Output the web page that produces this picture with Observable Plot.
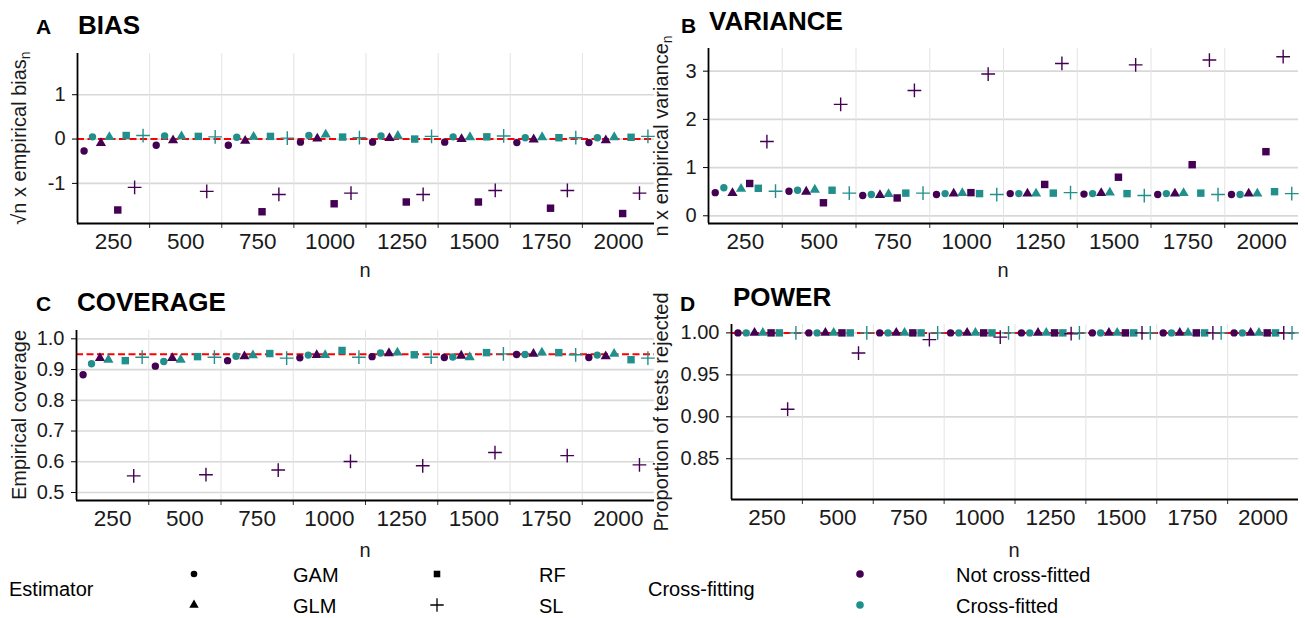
<!DOCTYPE html>
<html><head><meta charset="utf-8">
<script src="https://cdn.jsdelivr.net/npm/d3@7"></script>
<script src="https://cdn.jsdelivr.net/npm/@observablehq/plot@0.6"></script>
<style>
body{margin:0;background:#fff;font-family:"Liberation Sans",Arial,sans-serif;}
#root{position:relative;width:1305px;height:618px;overflow:hidden;background:#fff;}
#root svg{position:absolute;overflow:visible;}
</style></head><body><div id="root"></div>
<script>
// ---------- data ----------
const nValues = [250, 500, 750, 1000, 1250, 1500, 1750, 2000];
const estimators = ["GAM", "GLM", "RF", "SL"];
const crossFitting = ["Not cross-fitted", "Cross-fitted"];
const cfColors = ["#440154", "#21908C"];

// BIAS (sqrt(n) x empirical bias)
const biasGamNot = [-0.27, -0.14, -0.14, -0.07, -0.07, -0.07, -0.08, -0.08];
const biasGamCf  = [0.05, 0.07, 0.04, 0.08, 0.07, 0.05, 0.03, 0.03];
const biasGlmNot = [-0.09, -0.03, -0.04, 0.01, 0.02, 0.00, -0.01, -0.03];
const biasGlmCf  = [0.045, 0.06, 0.05, 0.10, 0.07, 0.04, 0.04, 0.04];
const biasRfNot  = [-1.60, null, -1.64, -1.46, -1.42, -1.42, -1.56, -1.68];
const biasRfCf   = [0.08, 0.06, 0.06, 0.045, 0.00, 0.05, 0.03, 0.04];
const biasSlNot  = [-1.09, -1.18, -1.25, -1.22, -1.25, -1.16, -1.16, -1.22];
const biasSlCf   = [0.08, 0.05, 0.02, 0.03, 0.06, 0.07, 0.03, 0.06];

// VARIANCE (n x empirical variance)
const varGamNot = [0.48, 0.51, 0.42, 0.44, 0.46, 0.45, 0.44, 0.44];
const varGamCf  = [0.58, 0.53, 0.44, 0.46, 0.46, 0.46, 0.46, 0.44];
const varGlmNot = [0.47, 0.50, 0.43, 0.46, 0.46, 0.47, 0.46, 0.46];
const varGlmCf  = [0.56, 0.54, 0.45, 0.47, 0.46, 0.48, 0.47, 0.46];
const varRfNot  = [0.67, 0.27, 0.37, 0.48, 0.65, 0.80, 1.06, 1.33];
const varRfCf   = [0.57, 0.53, 0.47, 0.46, 0.47, 0.46, 0.47, 0.50];
const varSlNot  = [1.54, 2.31, 2.60, 2.94, 3.16, 3.13, 3.23, 3.30];
const varSlCf   = [0.51, 0.47, 0.47, 0.44, 0.48, 0.42, 0.44, 0.46];

// COVERAGE
const covGamNot = [0.883, 0.911, 0.929, 0.938, 0.942, 0.939, 0.949, 0.939];
const covGamCf  = [0.919, 0.926, 0.943, 0.947, 0.954, 0.941, 0.949, 0.947];
const covGlmNot = [0.937, 0.937, 0.943, 0.947, 0.953, 0.945, 0.951, 0.943];
const covGlmCf  = [0.932, 0.932, 0.946, 0.947, 0.955, 0.940, 0.955, 0.951];
const covRfNot  = [null, null, null, null, null, null, null, null];
const covRfCf   = [0.929, 0.942, 0.952, 0.962, 0.948, 0.955, 0.955, 0.932];
const covSlNot  = [0.554, 0.558, 0.573, 0.601, 0.587, 0.630, 0.620, 0.590];
const covSlCf   = [0.940, 0.940, 0.937, 0.940, 0.940, 0.951, 0.948, 0.937];

// POWER (proportion of tests rejected)
const powGamNot = [1, 1, 1, 1, 1, 1, 1, 1];
const powGamCf  = [1, 1, 1, 1, 1, 1, 1, 1];
const powGlmNot = [1, 1, 1, 1, 1, 1, 1, 1];
const powGlmCf  = [1, 1, 1, 1, 1, 1, 1, 1];
const powRfNot  = [1, 1, 1, 1, 1, 1, 1, 1];
const powRfCf   = [1, 1, 1, 1, 1, 1, 1, 1];
const powSlNot  = [0.909, 0.976, 0.992, 0.995, 0.999, 1, 1, 1];
const powSlCf   = [1, 1, 1, 1, 1, 1, 1, 1];

const biasTicks = [-1, 0, 1];
const varTicks = [0, 1, 2, 3];
const covTicks = [0.5, 0.6, 0.7, 0.8, 0.9, 1.0];
const powTicks = [0.85, 0.90, 0.95, 1.00];

// ---------- helpers ----------
const FONT = "Liberation Sans, Arial, sans-serif";
const dodgeStep = 29.2; // in n units (8 dodged slots per group)
const seps = nValues.slice(0, -1).map(n => n + 125);
const xDomain = [125, 2125];

function buildRows(series) {
  const rows = [];
  series.forEach(([est, ci, vals]) => {
    const slot = estimators.indexOf(est) * 2 + ci;
    vals.forEach((v, k) => {
      if (v != null) rows.push({n: nValues[k], x: nValues[k] + (slot - 3.5) * dodgeStep, value: v, est, cf: crossFitting[ci]});
    });
  });
  return rows;
}

const symStyle = {
  GAM: {symbol: "circle", r: 3.7, filled: true},
  GLM: {symbol: "triangle", r: 3.8, filled: true},
  RF:  {symbol: "square", r: 4.2, filled: true},
  SL:  {symbol: "plus", r: 4.5, filled: false}
};

function makePanel(cfg) {
  const rows = buildRows(cfg.series);
  const dots = estimators.map(e => {
    const s = symStyle[e];
    const data = rows.filter(d => d.est === e);
    return s.filled
      ? Plot.dot(data, {x: "x", y: "value", symbol: () => s.symbol, r: s.r, fill: "cf", stroke: null})
      : Plot.dot(data, {x: "x", y: "value", symbol: () => s.symbol, r: s.r, stroke: "cf", fill: "none", strokeWidth: 1.4});
  });
  const svg = Plot.plot({
    width: cfg.width, height: cfg.height,
    marginLeft: cfg.mL, marginRight: cfg.mR, marginTop: cfg.mT, marginBottom: cfg.mB,
    style: {fontFamily: FONT, background: "transparent", color: "#1a1a1a"},
    x: {domain: xDomain, label: null},
    y: {domain: cfg.yDomain, label: null},
    symbol: {type: "identity"},
    color: {domain: crossFitting, range: cfColors},
    marks: [
      Plot.gridY(cfg.yTicks, {stroke: "#d8d8d8", strokeOpacity: 1, strokeWidth: 1.7}),
      Plot.gridX(seps, {stroke: "#e3e3e3", strokeOpacity: 1, strokeWidth: 1}),
      cfg.ref != null ? Plot.ruleY([cfg.ref], {stroke: "#ff0000", strokeWidth: 2, strokeDasharray: "7,3.5"}) : null,
      Plot.axisY(cfg.yTicks, {tickSize: 5, tickPadding: 7, fontSize: 20, tickFormat: cfg.yFormat, label: null, stroke: "#000", color: "#1a1a1a"}),
      Plot.axisX(nValues, {tickSize: 0, tickPadding: 10, fontSize: 22.5, tickFormat: d => String(d), label: null, color: "#1a1a1a"}),
      Plot.axisX(seps, {tickSize: 5, tickFormat: () => "", label: null, stroke: "#333"}),
      Plot.ruleX([xDomain[0]], {stroke: "#000", strokeWidth: 1.8}),
      Plot.ruleY([cfg.yDomain[0]], {stroke: "#000", strokeWidth: 1.8}),
      ...dots
    ]
  });
  svg.style.left = cfg.left + "px";
  svg.style.top = cfg.top + "px";
  return svg;
}

const root = document.getElementById("root");

root.appendChild(makePanel({
  left: 0, top: 0, width: 660, height: 290, mL: 77, mR: 6, mT: 53, mB: 67,
  yDomain: [-1.905, 1.93], yTicks: biasTicks, yFormat: d => String(d), ref: 0,
  series: [["GAM",0,biasGamNot],["GAM",1,biasGamCf],["GLM",0,biasGlmNot],["GLM",1,biasGlmCf],
           ["RF",0,biasRfNot],["RF",1,biasRfCf],["SL",0,biasSlNot],["SL",1,biasSlCf]]
}));
root.appendChild(makePanel({
  left: 660, top: 0, width: 645, height: 290, mL: 48, mR: 7, mT: 48, mB: 67,
  yDomain: [-0.16, 3.47], yTicks: varTicks, yFormat: d => String(d), ref: null,
  series: [["GAM",0,varGamNot],["GAM",1,varGamCf],["GLM",0,varGlmNot],["GLM",1,varGlmCf],
           ["RF",0,varRfNot],["RF",1,varRfCf],["SL",0,varSlNot],["SL",1,varSlCf]]
}));
root.appendChild(makePanel({
  left: 0, top: 290, width: 660, height: 290, mL: 76, mR: 6, mT: 40, mB: 80,
  yDomain: [0.474, 1.027], yTicks: covTicks, yFormat: d3.format(".1f"), ref: 0.95,
  series: [["GAM",0,covGamNot],["GAM",1,covGamCf],["GLM",0,covGlmNot],["GLM",1,covGlmCf],
           ["RF",0,covRfNot],["RF",1,covRfCf],["SL",0,covSlNot],["SL",1,covSlCf]]
}));
root.appendChild(makePanel({
  left: 660, top: 290, width: 645, height: 290, mL: 71, mR: 7, mT: 34, mB: 81,
  yDomain: [0.8014, 1.010], yTicks: powTicks, yFormat: d3.format(".2f"), ref: 1.0,
  series: [["GAM",0,powGamNot],["GAM",1,powGamCf],["GLM",0,powGlmNot],["GLM",1,powGlmCf],
           ["RF",0,powRfNot],["RF",1,powRfCf],["SL",0,powSlNot],["SL",1,powSlCf]]
}));

// ---------- overlay: titles, axis titles, legend ----------
const ov = d3.select(root).append("svg")
  .attr("width", 1305).attr("height", 618)
  .style("left", "0px").style("top", "0px")
  .attr("font-family", FONT).attr("fill", "#000");

const titles = [
  {letter: "A", lx: 36, ly: 34, title: "BIAS", tx: 78, ty: 34},
  {letter: "B", lx: 681, ly: 33, title: "VARIANCE", tx: 709, ty: 30},
  {letter: "C", lx: 36, ly: 311, title: "COVERAGE", tx: 77, ty: 311},
  {letter: "D", lx: 680, ly: 311, title: "POWER", tx: 733, ty: 306}
];
titles.forEach(t => {
  ov.append("text").attr("x", t.lx).attr("y", t.ly).attr("font-size", 21).attr("font-weight", "bold").text(t.letter);
  ov.append("text").attr("x", t.tx).attr("y", t.ty).attr("font-size", 26).attr("font-weight", "bold").text(t.title);
});

// x-axis titles
[[365, 277], [1003, 277], [365, 557], [1014, 557]].forEach(([x, y]) => {
  ov.append("text").attr("x", x).attr("y", y).attr("text-anchor", "middle").attr("font-size", 20).attr("fill", "#1a1a1a").text("n");
});

// y-axis titles
function yTitle(cx, cy, main, sub) {
  const t = ov.append("text")
    .attr("transform", `translate(${cx},${cy}) rotate(-90)`)
    .attr("text-anchor", "middle").attr("dy", "0.35em")
    .attr("font-size", 20).attr("fill", "#1a1a1a");
  t.append("tspan").text(main);
  if (sub) t.append("tspan").attr("font-size", 14).attr("dy", "0.3em").text(sub);
}
yTitle(19, 138, "√n x empirical bias", "n");
yTitle(661, 136, "n x empirical variance", "n");
yTitle(19, 415, "Empirical coverage", null);
yTitle(661, 412, "Proportion of tests rejected", null);

// legend
const legSym = {
  GAM: d3.symbol(d3.symbolCircle, Math.PI * 3.3 * 3.3),
  GLM: d3.symbol(d3.symbolTriangle, Math.PI * 3.5 * 3.5),
  RF: d3.symbol(d3.symbolSquare, Math.PI * 3.7 * 3.7),
  SL: d3.symbol(d3.symbolPlus2 || d3.symbolPlus, Math.PI * 4.4 * 4.4)
};
ov.append("text").attr("x", 9).attr("y", 596).attr("font-size", 20).text("Estimator");
const estPos = {GAM: [194, 574, 293, 582], RF: [437, 574, 539, 582], GLM: [194, 605, 293, 613], SL: [437, 605, 539, 613]};
estimators.forEach(e => {
  const [sx, sy, tx, ty] = estPos[e];
  const p = ov.append("path").attr("transform", `translate(${sx},${sy})`).attr("d", legSym[e]());
  if (e === "SL") p.attr("fill", "none").attr("stroke", "#000").attr("stroke-width", 1.3);
  else p.attr("fill", "#000");
  ov.append("text").attr("x", tx).attr("y", ty).attr("font-size", 20).text(e);
});
ov.append("text").attr("x", 648).attr("y", 596).attr("font-size", 20).text("Cross-fitting");
crossFitting.forEach((c, i) => {
  const sy = i === 0 ? 574 : 605;
  ov.append("circle").attr("cx", 860).attr("cy", sy).attr("r", 3.8).attr("fill", cfColors[i]);
  ov.append("text").attr("x", 956).attr("y", sy + 8).attr("font-size", 20).text(c);
});
</script>
</body></html>
